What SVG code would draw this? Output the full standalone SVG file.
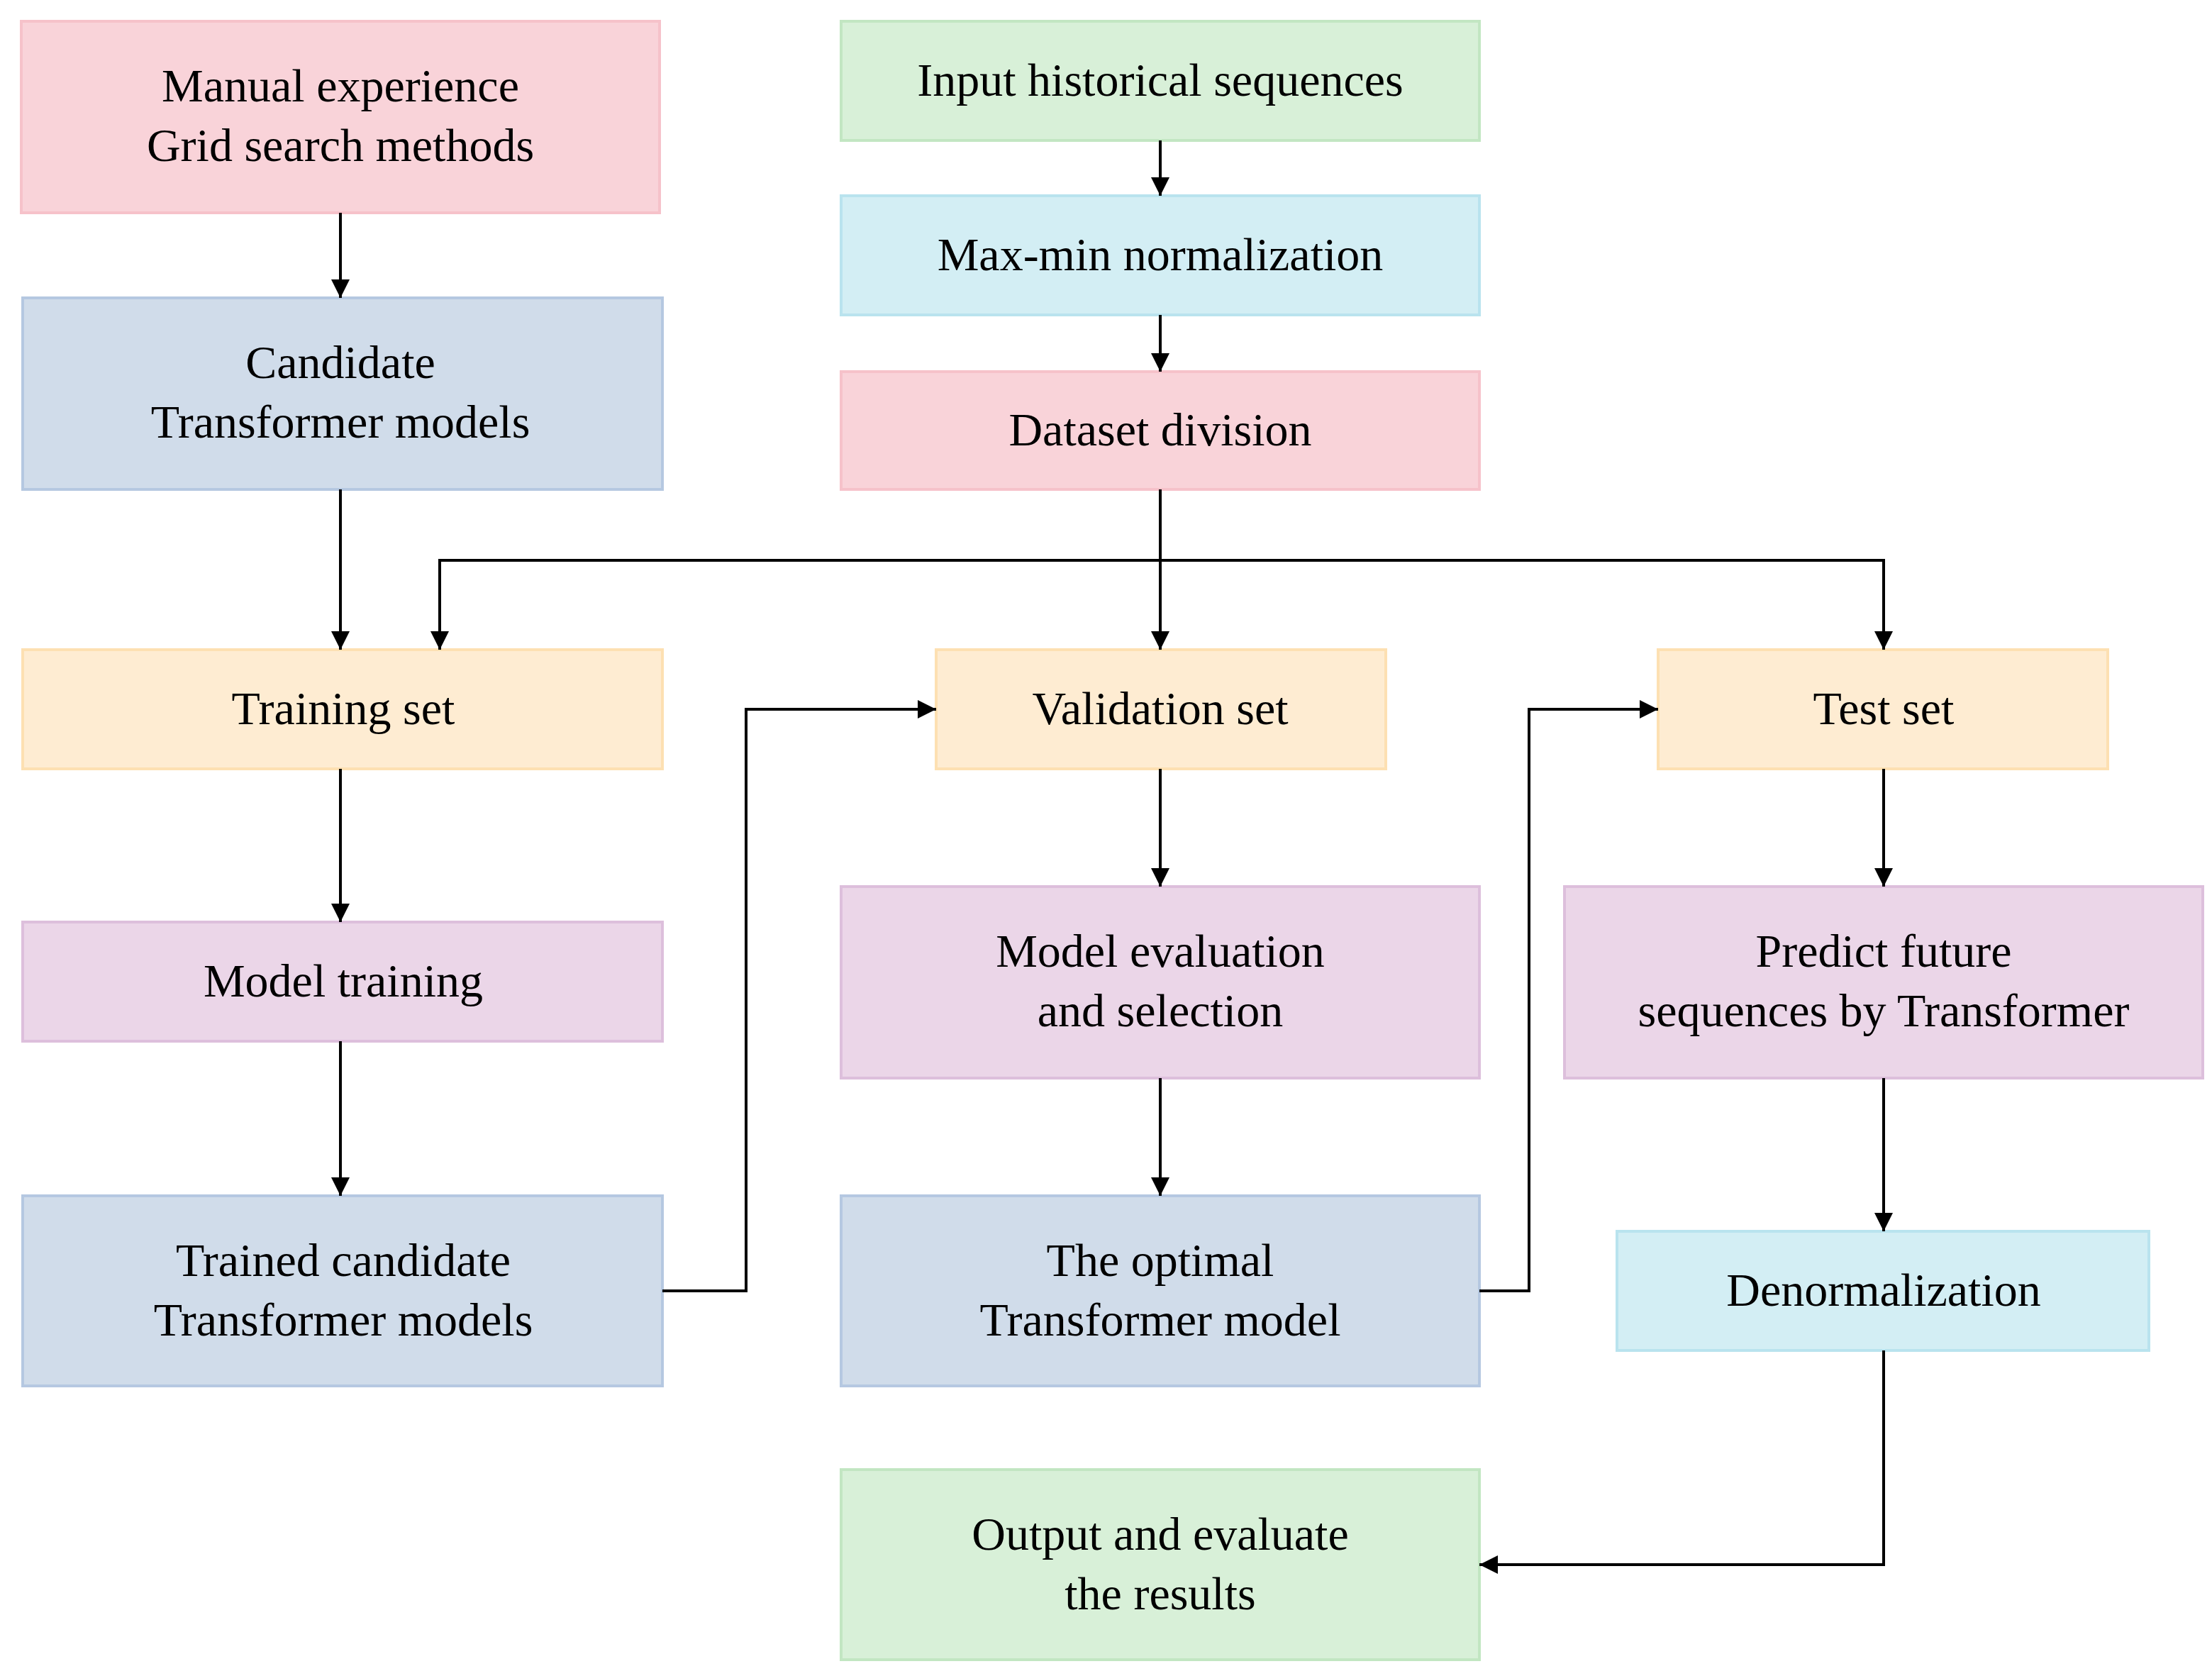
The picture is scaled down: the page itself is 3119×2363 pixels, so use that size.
<svg xmlns="http://www.w3.org/2000/svg" width="3119" height="2363" viewBox="0 0 3119 2363">
<style>
rect{stroke-width:4}
.pk{fill:#f9d3d9;stroke:#f6c2ca}.gr{fill:#d8f0d8;stroke:#c2e6c2}.cy{fill:#d3eef4;stroke:#b9e3ee}
.bl{fill:#d0dcea;stroke:#b5c8e1}.or{fill:#feecd2;stroke:#fde0b2}.pu{fill:#ebd6e8;stroke:#ddbfdc}
text{font-family:"Liberation Serif","DejaVu Serif",serif;font-size:66px;fill:#000;text-anchor:middle}
.c path{fill:none;stroke:#000;stroke-width:4;marker-end:url(#a)}
</style>
<defs><marker id="a" markerWidth="8" markerHeight="8" refX="7" refY="4" orient="auto" markerUnits="userSpaceOnUse" viewBox="0 0 8 8"><path d="M0,0L8,4L0,8z" fill="#000"/></marker>
<marker id="b" viewBox="0 0 10 10" refX="10" refY="5" markerWidth="26" markerHeight="26" markerUnits="userSpaceOnUse" orient="auto"><path d="M0,0L10,5L0,10z" fill="#000"/></marker></defs>
<g id="n1"><rect class="pk" x="30" y="30" width="900" height="270"/><text x="480" y="143">Manual experience</text><text x="480" y="227">Grid search methods</text></g>
<g id="n2"><rect class="gr" x="1186" y="30" width="900" height="168"/><text x="1636" y="135">Input historical sequences</text></g>
<g id="n3"><rect class="cy" x="1186" y="276" width="900" height="168"/><text x="1636" y="381">Max-min normalization</text></g>
<g id="n4"><rect class="pk" x="1186" y="524" width="900" height="166"/><text x="1636" y="628">Dataset division</text></g>
<g id="n5"><rect class="bl" x="32" y="420" width="902" height="270"/><text x="480" y="533">Candidate</text><text x="480" y="617">Transformer models</text></g>
<g id="n6"><rect class="or" x="32" y="916" width="902" height="168"/><text x="484" y="1021">Training set</text></g>
<g id="n7"><rect class="or" x="1320" y="916" width="634" height="168"/><text x="1636" y="1021">Validation set</text></g>
<g id="n8"><rect class="or" x="2338" y="916" width="634" height="168"/><text x="2656" y="1021">Test set</text></g>
<g id="n9"><rect class="pu" x="32" y="1300" width="902" height="168"/><text x="484" y="1405">Model training</text></g>
<g id="n10"><rect class="pu" x="1186" y="1250" width="900" height="270"/><text x="1636" y="1363">Model evaluation</text><text x="1636" y="1447">and selection</text></g>
<g id="n11"><rect class="pu" x="2206" y="1250" width="900" height="270"/><text x="2656" y="1363">Predict future</text><text x="2656" y="1447">sequences by Transformer</text></g>
<g id="n12"><rect class="bl" x="32" y="1686" width="902" height="268"/><text x="484" y="1799">Trained candidate</text><text x="484" y="1883">Transformer models</text></g>
<g id="n13"><rect class="bl" x="1186" y="1686" width="900" height="268"/><text x="1636" y="1799">The optimal</text><text x="1636" y="1883">Transformer model</text></g>
<g id="n14"><rect class="cy" x="2280" y="1736" width="750" height="168"/><text x="2656" y="1841">Denormalization</text></g>
<g id="n15"><rect class="gr" x="1186" y="2072" width="900" height="268"/><text x="1636" y="2185">Output and evaluate</text><text x="1636" y="2269">the results</text></g>
<g class="c" id="connectors" style="--m:0">
<path style="marker-end:url(#b)" d="M480,300V420"/>
<path style="marker-end:url(#b)" d="M480,690V916"/>
<path style="marker-end:url(#b)" d="M480,1084V1300"/>
<path style="marker-end:url(#b)" d="M480,1468V1686"/>
<path style="marker-end:url(#b)" d="M1636,198V276"/>
<path style="marker-end:url(#b)" d="M1636,444V524"/>
<path style="marker-end:url(#b)" d="M1636,690V916"/>
<path style="marker-end:url(#b)" d="M1636,790H620V916"/>
<path style="marker-end:url(#b)" d="M1636,790H2656V916"/>
<path style="marker-end:url(#b)" d="M934,1820H1052V1000H1320"/>
<path style="marker-end:url(#b)" d="M2086,1820H2156V1000H2338"/>
<path style="marker-end:url(#b)" d="M1636,1084V1250"/>
<path style="marker-end:url(#b)" d="M1636,1520V1686"/>
<path style="marker-end:url(#b)" d="M2656,1084V1250"/>
<path style="marker-end:url(#b)" d="M2656,1520V1736"/>
<path style="marker-end:url(#b)" d="M2656,1904V2206H2086"/>
</g>
</svg>
